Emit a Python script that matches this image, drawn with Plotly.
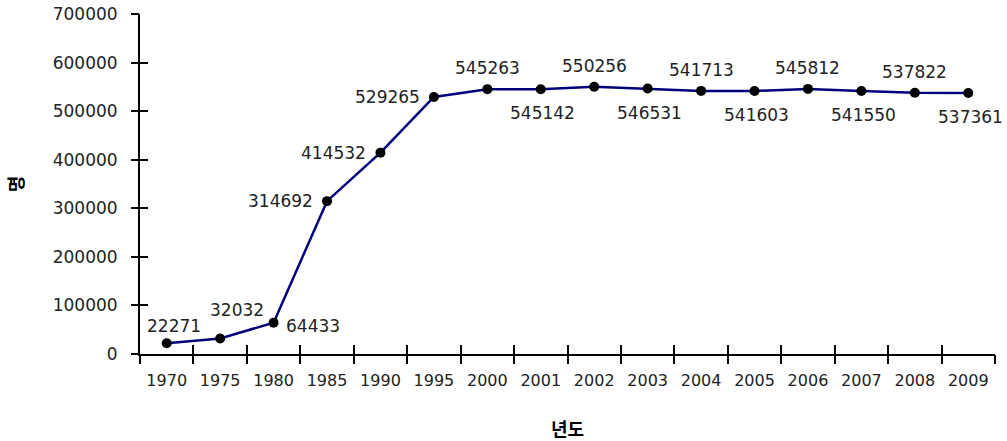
import plotly.graph_objects as go

years = ["1970", "1975", "1980", "1985", "1990", "1995", "2000", "2001",
         "2002", "2003", "2004", "2005", "2006", "2007", "2008", "2009"]
people = [22271, 32032, 64433, 314692, 414532, 529265, 545263, 545142,
          550256, 546531, 541713, 541603, 545812, 541550, 537822, 537361]
label_side = ["top", "top", "right", "left", "left", "left", "top", "bottom",
              "top", "bottom", "top", "bottom", "top", "bottom", "top", "bottom"]
# extra pixel nudges (dx, dy) for crowded labels at the low end
label_nudge = {"1970": (7, -4), "1975": (17, 7)}

num_font = dict(family="DejaVu Sans", size=17, color="#222222")
xtick_font = dict(family="DejaVu Sans", size=16, color="#222222")
kr_font = dict(family="Noto Sans CJK KR", size=18, color="#000000")

fig = go.Figure()
fig.add_trace(go.Scatter(
    x=years, y=people, mode="lines+markers",
    line=dict(color="#00007f", width=2.5),
    marker=dict(color="#000000", size=10),
    showlegend=False,
))
# hidden traces on overlaid axes; those axes draw the outward half of each tick
fig.add_trace(go.Scatter(x=years, y=people, xaxis="x", yaxis="y2", mode="lines",
                         opacity=0, hoverinfo="skip", showlegend=False))
fig.add_trace(go.Scatter(x=years, y=people, xaxis="x2", yaxis="y", mode="lines",
                         opacity=0, hoverinfo="skip", showlegend=False))

# value labels, placed beside each point according to label_side
placement = {
    "top": dict(xanchor="center", yanchor="bottom", xshift=0, yshift=9),
    "bottom": dict(xanchor="center", yanchor="top", xshift=2, yshift=-12),
    "left": dict(xanchor="right", yanchor="middle", xshift=-12, yshift=0),
    "right": dict(xanchor="left", yanchor="middle", xshift=10, yshift=-3),
}
for idx, (yr, val, side) in enumerate(zip(years, people, label_side)):
    spot = dict(placement[side])
    dx, dy = label_nudge.get(yr, (0, 0))
    spot["xshift"] += dx
    spot["yshift"] += dy
    fig.add_annotation(x=idx, y=val, xref="x", yref="y", text=str(val),
                       showarrow=False, font=num_font, **spot)

common_y = dict(range=[0, 700000], dtick=100000, tickformat="d",
                showgrid=False, zeroline=False, automargin=False,
                linecolor="#000000", linewidth=2, tickcolor="#000000",
                tickwidth=2, ticklen=8)
common_x = dict(type="category", range=[-0.5, len(years) - 0.5],
                tickson="boundaries", tickangle=0, showgrid=False,
                zeroline=False, automargin=False, linecolor="#000000",
                linewidth=2, tickcolor="#000000", tickwidth=2, ticklen=9)

fig.update_layout(
    width=1007, height=441,
    margin=dict(l=140, r=12, t=14, b=87),
    plot_bgcolor="white", paper_bgcolor="white",
    xaxis=dict(**common_x, ticks="inside", showline=True,
               tickfont=xtick_font, ticklabelstandoff=11,
               title=dict(text="년도", font=kr_font, standoff=35)),
    yaxis=dict(**common_y, ticks="inside", showline=True,
               tickfont=num_font, ticklabelstandoff=17,
               title=dict(text="명", font=kr_font, standoff=24)),
    xaxis2=dict(**common_x, ticks="outside", showline=False,
                showticklabels=False, overlaying="x", anchor="y"),
    yaxis2=dict(**common_y, ticks="outside", showline=False,
                showticklabels=False, overlaying="y", anchor="x"),
)
fig.update_layout(xaxis_title_font_weight="bold", yaxis_title_font_weight="bold")

fig.write_html("out.html")
